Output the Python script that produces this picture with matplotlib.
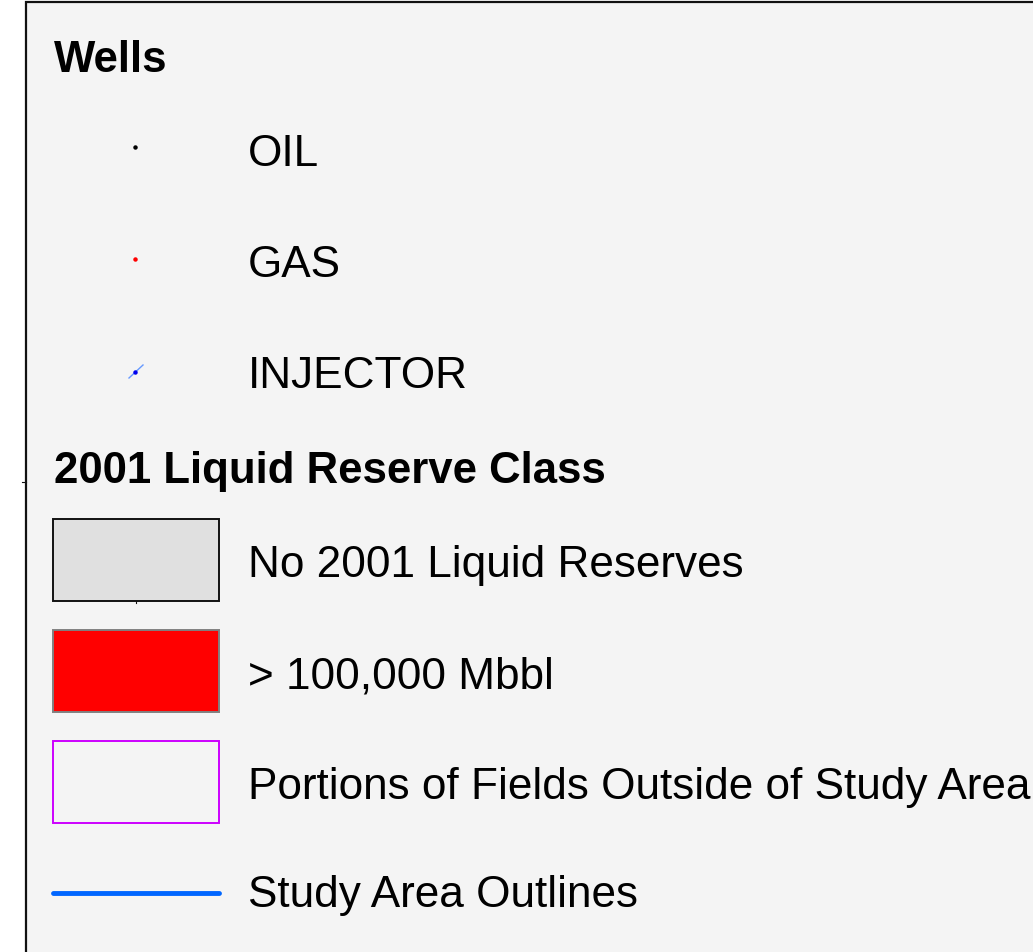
import matplotlib.pyplot as plt
from matplotlib.patches import Rectangle

plt.rcParams['font.family'] = ['Liberation Sans', 'DejaVu Sans']

# legend content
well_labels = ['OIL', 'GAS', 'INJECTOR']
well_colors = ['black', 'red', '#0000ee']
well_rows = [147, 259, 372]
well_baselines = [166, 277, 388]

class_labels = ['No 2001 Liquid Reserves', '> 100,000 Mbbl', 'Portions of Fields Outside of Study Area']
class_faces = ['#e0e0e0', 'red', 'none']
class_edges = ['#111111', '#808080', '#cc00ff']
class_rows = [560, 671, 782]
class_baselines = [577, 688, 799]

line_label = 'Study Area Outlines'
line_color = '#0066ff'
line_row = 893

fig = plt.figure(figsize=(10.33, 9.52), dpi=100)
ax = fig.add_axes([0, 0, 1, 1])
ax.set_xlim(0, 1033)
ax.set_ylim(952, 0)
ax.axis('off')

# frame (continues past right and bottom edges)
ax.add_patch(Rectangle((26, 2), 1100, 1000, facecolor='#f4f4f4', edgecolor='#111111', lw=1.6))
ax.plot([22, 26], [482, 482], color='#111111', lw=0.8)

ax.text(54, 72, 'Wells', fontsize=31.5, fontweight='bold', va='baseline')
for lab, c, y, b in zip(well_labels, well_colors, well_rows, well_baselines):
    if lab == 'INJECTOR':
        ax.plot([129, 143], [378, 365], color='#6699ff', lw=1)
    ax.plot(135, y, 'o', color=c, ms=2.2, mec=c)
    ax.text(248, b, lab, fontsize=31.8, va='baseline')

ax.text(54, 483, '2001 Liquid Reserve Class', fontsize=31.5, fontweight='bold', va='baseline')
for lab, fc, ec, y, b in zip(class_labels, class_faces, class_edges, class_rows, class_baselines):
    ax.add_patch(Rectangle((53, y - 41), 166, 82, facecolor=fc, edgecolor=ec, lw=1.4))
    ax.text(248, b, lab, fontsize=31.8, va='baseline')
ax.plot([136, 136], [601, 603], color='#111111', lw=0.8)

ax.plot([53, 219], [line_row, line_row], color=line_color, lw=3.5, solid_capstyle='round')
ax.text(248, 907, line_label, fontsize=31.8, va='baseline')

fig.savefig('out.png', dpi=100)
